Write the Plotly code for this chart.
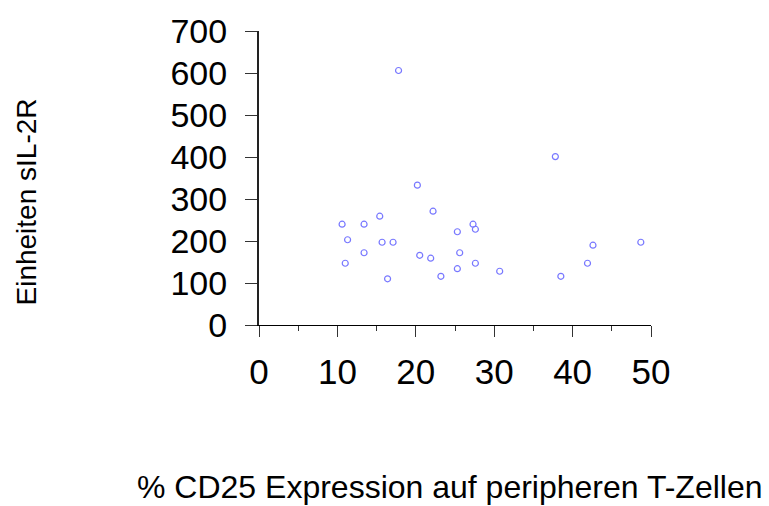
import plotly.graph_objects as go

cd25 = [10.6, 13.4, 15.4, 11.3, 15.7, 17.1, 13.4, 11.0, 16.4, 20.2, 22.2, 20.5, 21.9,
        23.2, 25.3, 27.3, 27.6, 25.6, 25.3, 27.6, 30.7, 38.5, 41.9, 42.6, 48.7, 17.8, 37.8]
sil2r = [240, 240, 259, 203, 197, 197, 172, 147, 110, 333, 271, 166, 159,
         116, 222, 240, 228, 172, 134, 147, 128, 116, 147, 190, 197, 606, 401]

x_ticks = [0, 10, 20, 30, 40, 50]
y_ticks = [0, 100, 200, 300, 400, 500, 600, 700]

FONT = "Liberation Sans, Arial, sans-serif"

fig = go.Figure()
fig.add_trace(go.Scatter(
    x=cd25, y=sil2r, mode="markers",
    marker=dict(symbol="circle-open", size=6, color="#7878ff", line=dict(width=1.2)),
    cliponaxis=False, showlegend=False,
))

L, R, T, B = 259, 118, 25, 181
pw, ph = 769 - L - R, 506 - T - B

fig.update_layout(
    width=769, height=506,
    margin=dict(l=L, r=R, t=T, b=B, pad=0),
    paper_bgcolor="white", plot_bgcolor="white",
    font=dict(family=FONT, color="black"),
    xaxis=dict(
        range=[0, 50], tickvals=x_ticks, ticktext=[str(v) for v in x_ticks],
        showgrid=False, zeroline=False, showline=True, linecolor="black", linewidth=1,
        ticks="outside", ticklen=11, tickwidth=1, tickcolor="#333",
        tickfont=dict(size=35, family=FONT),
        minor=dict(tickvals=[5, 15, 25, 35, 45], ticks="outside", ticklen=5, tickcolor="#333", showgrid=False),
        ticklabelstandoff=5,
    ),
    yaxis=dict(
        range=[0, 700], tickvals=y_ticks, ticktext=[str(v) for v in y_ticks],
        showgrid=False, zeroline=False, showline=True, linecolor="#222", linewidth=2,
        ticks="outside", ticklen=12, tickwidth=1, tickcolor="#333",
        tickfont=dict(size=34, family=FONT),
        ticklabelstandoff=11,
    ),
    annotations=[
        dict(text="% CD25 Expression auf peripheren T-Zellen", xref="paper", yref="paper",
             x=(450 - L) / pw, y=(T + ph - 490) / ph, xanchor="center", yanchor="middle",
             showarrow=False, font=dict(size=32, family=FONT, color="black")),
        dict(text="Einheiten sIL-2R", xref="paper", yref="paper", textangle=-90,
             x=(26 - L) / pw, y=(T + ph - 200) / ph, xanchor="center", yanchor="middle",
             showarrow=False, font=dict(size=28, family=FONT, color="black")),
    ],
)

fig.write_html("out.html")
